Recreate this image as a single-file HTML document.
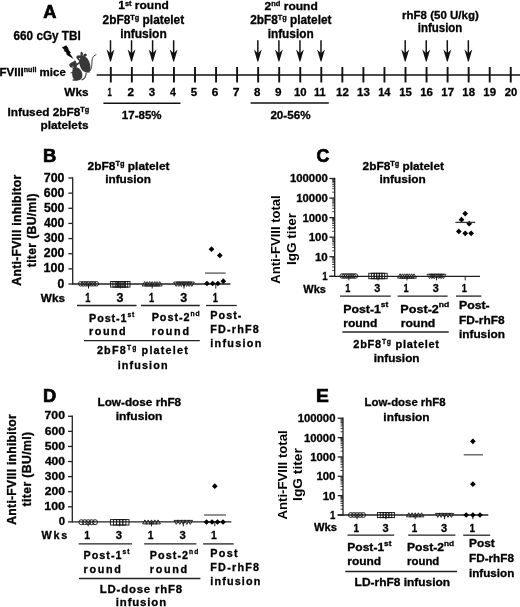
<!DOCTYPE html>
<html><head><meta charset="utf-8"><style>
html,body{margin:0;padding:0;background:#fff;width:520px;height:607px;overflow:hidden}
svg{display:block;will-change:transform}
text{font-family:"Liberation Sans",sans-serif;stroke:#000;stroke-width:0.3px}
</style></head><body>
<svg width="520" height="607" viewBox="0 0 520 607">
<rect width="520" height="607" fill="#fff"/>
<text x="43.15" y="18.30" font-size="17.80" textLength="13.13" lengthAdjust="spacingAndGlyphs" fill="#000" font-weight="bold" style="stroke-width:0.70px">A</text>
<text x="13.57" y="40.00" font-size="12.50" textLength="67.22" lengthAdjust="spacingAndGlyphs" fill="#000" font-weight="bold">660 cGy TBI</text>
<text x="118.25" y="9.00" font-size="11.50" textLength="50.54" lengthAdjust="spacingAndGlyphs" fill="#000" font-weight="bold">1<tspan font-size="7.13" dy="-3.45">st</tspan><tspan dy="3.45"> round</tspan></text>
<text x="102.59" y="24.00" font-size="12.00" textLength="81.56" lengthAdjust="spacingAndGlyphs" fill="#000" font-weight="bold">2bF8<tspan font-size="7.44" dy="-4.32">Tg</tspan><tspan dy="4.32"> platelet</tspan></text>
<text x="120.16" y="37.50" font-size="12.00" textLength="46.58" lengthAdjust="spacingAndGlyphs" fill="#000" font-weight="bold">infusion</text>
<text x="264.58" y="9.60" font-size="11.50" textLength="53.21" lengthAdjust="spacingAndGlyphs" fill="#000" font-weight="bold">2<tspan font-size="7.13" dy="-3.45">nd</tspan><tspan dy="3.45"> round</tspan></text>
<text x="250.19" y="24.00" font-size="12.00" textLength="81.25" lengthAdjust="spacingAndGlyphs" fill="#000" font-weight="bold">2bF8<tspan font-size="7.44" dy="-4.32">Tg</tspan><tspan dy="4.32"> platelet</tspan></text>
<text x="267.67" y="37.50" font-size="12.00" textLength="46.06" lengthAdjust="spacingAndGlyphs" fill="#000" font-weight="bold">infusion</text>
<text x="402.04" y="19.00" font-size="11.50" textLength="76.73" lengthAdjust="spacingAndGlyphs" fill="#000" font-weight="bold">rhF8 (50 U/kg)</text>
<text x="417.80" y="32.00" font-size="12.00" textLength="44.51" lengthAdjust="spacingAndGlyphs" fill="#000" font-weight="bold">infusion</text>
<text x="-0.47" y="76.30" font-size="11.50" textLength="66.26" lengthAdjust="spacingAndGlyphs" fill="#000" font-weight="bold">FVIII<tspan font-size="7.13" dy="-4.14">null</tspan><tspan dy="4.14"> mice</tspan></text>
<text x="64.39" y="96.00" font-size="11.00" textLength="24.09" lengthAdjust="spacingAndGlyphs" fill="#000" font-weight="bold">Wks</text>
<text x="107.51" y="96.40" font-size="11.40" textLength="4.30" lengthAdjust="spacingAndGlyphs" fill="#000" font-weight="bold">1</text>
<text x="127.59" y="96.40" font-size="11.40" textLength="6.58" lengthAdjust="spacingAndGlyphs" fill="#000" font-weight="bold">2</text>
<text x="148.79" y="96.40" font-size="11.40" textLength="6.38" lengthAdjust="spacingAndGlyphs" fill="#000" font-weight="bold">3</text>
<text x="169.94" y="96.40" font-size="11.40" textLength="5.92" lengthAdjust="spacingAndGlyphs" fill="#000" font-weight="bold">4</text>
<text x="190.80" y="96.40" font-size="11.40" textLength="6.37" lengthAdjust="spacingAndGlyphs" fill="#000" font-weight="bold">5</text>
<text x="211.77" y="96.40" font-size="11.40" textLength="6.56" lengthAdjust="spacingAndGlyphs" fill="#000" font-weight="bold">6</text>
<text x="232.73" y="96.40" font-size="11.40" textLength="6.76" lengthAdjust="spacingAndGlyphs" fill="#000" font-weight="bold">7</text>
<text x="253.93" y="96.40" font-size="11.40" textLength="6.42" lengthAdjust="spacingAndGlyphs" fill="#000" font-weight="bold">8</text>
<text x="274.94" y="96.40" font-size="11.40" textLength="6.54" lengthAdjust="spacingAndGlyphs" fill="#000" font-weight="bold">9</text>
<text x="294.04" y="96.40" font-size="11.40" textLength="12.58" lengthAdjust="spacingAndGlyphs" fill="#000" font-weight="bold">10</text>
<text x="314.05" y="96.40" font-size="11.40" textLength="11.54" lengthAdjust="spacingAndGlyphs" fill="#000" font-weight="bold">11</text>
<text x="336.03" y="96.40" font-size="11.40" textLength="12.78" lengthAdjust="spacingAndGlyphs" fill="#000" font-weight="bold">12</text>
<text x="357.08" y="96.40" font-size="11.40" textLength="12.73" lengthAdjust="spacingAndGlyphs" fill="#000" font-weight="bold">13</text>
<text x="378.15" y="96.40" font-size="11.40" textLength="12.36" lengthAdjust="spacingAndGlyphs" fill="#000" font-weight="bold">14</text>
<text x="399.18" y="96.40" font-size="11.40" textLength="12.63" lengthAdjust="spacingAndGlyphs" fill="#000" font-weight="bold">15</text>
<text x="420.23" y="96.40" font-size="11.40" textLength="12.73" lengthAdjust="spacingAndGlyphs" fill="#000" font-weight="bold">16</text>
<text x="441.27" y="96.40" font-size="11.40" textLength="12.83" lengthAdjust="spacingAndGlyphs" fill="#000" font-weight="bold">17</text>
<text x="462.33" y="96.40" font-size="11.40" textLength="12.67" lengthAdjust="spacingAndGlyphs" fill="#000" font-weight="bold">18</text>
<text x="483.38" y="96.40" font-size="11.40" textLength="12.75" lengthAdjust="spacingAndGlyphs" fill="#000" font-weight="bold">19</text>
<text x="504.76" y="96.40" font-size="11.40" textLength="12.45" lengthAdjust="spacingAndGlyphs" fill="#000" font-weight="bold">20</text>
<text x="7.46" y="116.25" font-size="11.80" textLength="81.78" lengthAdjust="spacingAndGlyphs" fill="#000" font-weight="bold">Infused 2bF8<tspan font-size="7.32" dy="-4.25">Tg</tspan></text>
<text x="40.47" y="129.40" font-size="11.80" textLength="48.02" lengthAdjust="spacingAndGlyphs" fill="#000" font-weight="bold">platelets</text>
<text x="121.87" y="119.20" font-size="11.80" textLength="39.73" lengthAdjust="spacingAndGlyphs" fill="#000" font-weight="bold">17-85%</text>
<text x="270.40" y="119.10" font-size="11.80" textLength="40.11" lengthAdjust="spacingAndGlyphs" fill="#000" font-weight="bold">20-56%</text>
<line x1="96.70" y1="75.00" x2="520.00" y2="75.00" stroke="#111" stroke-width="1.60"/>
<line x1="110.80" y1="67.00" x2="110.80" y2="82.50" stroke="#111" stroke-width="1.90"/>
<line x1="131.85" y1="67.00" x2="131.85" y2="82.50" stroke="#111" stroke-width="1.90"/>
<line x1="152.90" y1="67.00" x2="152.90" y2="82.50" stroke="#111" stroke-width="1.90"/>
<line x1="173.95" y1="67.00" x2="173.95" y2="82.50" stroke="#111" stroke-width="1.90"/>
<line x1="195.00" y1="67.00" x2="195.00" y2="82.50" stroke="#111" stroke-width="1.90"/>
<line x1="216.05" y1="67.00" x2="216.05" y2="82.50" stroke="#111" stroke-width="1.90"/>
<line x1="237.10" y1="67.00" x2="237.10" y2="82.50" stroke="#111" stroke-width="1.90"/>
<line x1="258.15" y1="67.00" x2="258.15" y2="82.50" stroke="#111" stroke-width="1.90"/>
<line x1="279.20" y1="67.00" x2="279.20" y2="82.50" stroke="#111" stroke-width="1.90"/>
<line x1="300.25" y1="67.00" x2="300.25" y2="82.50" stroke="#111" stroke-width="1.90"/>
<line x1="321.30" y1="67.00" x2="321.30" y2="82.50" stroke="#111" stroke-width="1.90"/>
<line x1="342.35" y1="67.00" x2="342.35" y2="82.50" stroke="#111" stroke-width="1.90"/>
<line x1="363.40" y1="67.00" x2="363.40" y2="82.50" stroke="#111" stroke-width="1.90"/>
<line x1="384.45" y1="67.00" x2="384.45" y2="82.50" stroke="#111" stroke-width="1.90"/>
<line x1="405.50" y1="67.00" x2="405.50" y2="82.50" stroke="#111" stroke-width="1.90"/>
<line x1="426.55" y1="67.00" x2="426.55" y2="82.50" stroke="#111" stroke-width="1.90"/>
<line x1="447.60" y1="67.00" x2="447.60" y2="82.50" stroke="#111" stroke-width="1.90"/>
<line x1="468.65" y1="67.00" x2="468.65" y2="82.50" stroke="#111" stroke-width="1.90"/>
<line x1="489.70" y1="67.00" x2="489.70" y2="82.50" stroke="#111" stroke-width="1.90"/>
<line x1="510.75" y1="67.00" x2="510.75" y2="82.50" stroke="#111" stroke-width="1.90"/>
<line x1="110.50" y1="40.20" x2="110.50" y2="55.40" stroke="#111" stroke-width="1.50"/>
<path d="M106.60 49.50 L110.50 53.20 L114.40 49.50 L110.90 61.40 L110.10 61.40 Z" fill="#111"/>
<line x1="131.55" y1="40.20" x2="131.55" y2="55.40" stroke="#111" stroke-width="1.50"/>
<path d="M127.65 49.50 L131.55 53.20 L135.45 49.50 L131.95 61.40 L131.15 61.40 Z" fill="#111"/>
<line x1="152.60" y1="40.20" x2="152.60" y2="55.40" stroke="#111" stroke-width="1.50"/>
<path d="M148.70 49.50 L152.60 53.20 L156.50 49.50 L153.00 61.40 L152.20 61.40 Z" fill="#111"/>
<line x1="173.65" y1="40.20" x2="173.65" y2="55.40" stroke="#111" stroke-width="1.50"/>
<path d="M169.75 49.50 L173.65 53.20 L177.55 49.50 L174.05 61.40 L173.25 61.40 Z" fill="#111"/>
<line x1="257.85" y1="40.20" x2="257.85" y2="55.40" stroke="#111" stroke-width="1.50"/>
<path d="M253.95 49.50 L257.85 53.20 L261.75 49.50 L258.25 61.40 L257.45 61.40 Z" fill="#111"/>
<line x1="278.90" y1="40.20" x2="278.90" y2="55.40" stroke="#111" stroke-width="1.50"/>
<path d="M275.00 49.50 L278.90 53.20 L282.80 49.50 L279.30 61.40 L278.50 61.40 Z" fill="#111"/>
<line x1="299.95" y1="40.20" x2="299.95" y2="55.40" stroke="#111" stroke-width="1.50"/>
<path d="M296.05 49.50 L299.95 53.20 L303.85 49.50 L300.35 61.40 L299.55 61.40 Z" fill="#111"/>
<line x1="321.00" y1="40.20" x2="321.00" y2="55.40" stroke="#111" stroke-width="1.50"/>
<path d="M317.10 49.50 L321.00 53.20 L324.90 49.50 L321.40 61.40 L320.60 61.40 Z" fill="#111"/>
<line x1="405.20" y1="40.20" x2="405.20" y2="55.40" stroke="#111" stroke-width="1.50"/>
<path d="M401.30 49.50 L405.20 53.20 L409.10 49.50 L405.60 61.40 L404.80 61.40 Z" fill="#111"/>
<line x1="426.25" y1="40.20" x2="426.25" y2="55.40" stroke="#111" stroke-width="1.50"/>
<path d="M422.35 49.50 L426.25 53.20 L430.15 49.50 L426.65 61.40 L425.85 61.40 Z" fill="#111"/>
<line x1="447.30" y1="40.20" x2="447.30" y2="55.40" stroke="#111" stroke-width="1.50"/>
<path d="M443.40 49.50 L447.30 53.20 L451.20 49.50 L447.70 61.40 L446.90 61.40 Z" fill="#111"/>
<line x1="468.35" y1="40.20" x2="468.35" y2="55.40" stroke="#111" stroke-width="1.50"/>
<path d="M464.45 49.50 L468.35 53.20 L472.25 49.50 L468.75 61.40 L467.95 61.40 Z" fill="#111"/>
<line x1="103.40" y1="103.20" x2="180.50" y2="103.20" stroke="#111" stroke-width="1.50"/>
<line x1="250.60" y1="103.00" x2="328.80" y2="103.00" stroke="#111" stroke-width="1.50"/>
<g fill="#383838">
<path d="M61.9 47.4 L66.2 45.3 L68.1 47.8 L68.8 50.1 L70.8 52.4 L70 53.5 L73.6 59.1 L66.9 55.1 L65.8 52 L64.2 51.2 L64.2 49.7 Z" fill="#0a0a0a"/>
<path d="M78.8 58.5 C80 55.3 85 55.2 87.6 58.8 C90 62 91.2 67 90.2 70.4 C89.3 72.6 85 72.6 83 71 C80.5 69 79 64 78.8 58.5 Z"/>
<path d="M76.3 57.7 C77 56 78.6 55.2 80.2 55.3 L84.4 56 C85.3 57.7 84.3 60.3 82.3 61.3 C80.3 61.9 78.2 60.6 76.3 57.7 Z"/>
<ellipse cx="81.7" cy="54" rx="1.25" ry="2.2" transform="rotate(-8 81.7 54)"/>
<ellipse cx="85" cy="55.2" rx="1.9" ry="1.4" transform="rotate(-30 85 55.2)"/>
<ellipse cx="77.6" cy="56.8" rx="1.1" ry="1.4"/>
<path d="M87.8 71.9 C90.6 71.6 91.9 68 91.9 63 C91.9 58.5 92.8 55.8 96.3 54.7" fill="none" stroke="#383838" stroke-width="1"/>
<path d="M73.2 68 C76 66.2 80.2 68 81.8 72 C83.2 76 82.2 79.6 78.6 80.3 C75 80.7 72.4 79 72.2 75 C72.1 72 72.3 69.6 73.2 68 Z"/>
<path d="M69.3 64.8 C70 62.6 73 61.1 75.5 61.5 C77.2 62.5 77.3 66 76.2 68.2 C74.6 69.8 71.8 69 69.3 64.8 Z"/>
<ellipse cx="74.8" cy="61.9" rx="1.1" ry="1.3"/>
<ellipse cx="70.6" cy="65.6" rx="1.1" ry="1.6" transform="rotate(-30 70.6 65.6)"/>
<path d="M75.8 65.4 L79.8 62.4" stroke="#383838" stroke-width="1.6" fill="none"/>
<ellipse cx="75.2" cy="79.9" rx="2.9" ry="0.9"/>
<path d="M70.6 72.9 L73.4 72.5" stroke="#383838" stroke-width="1" fill="none"/>
<path d="M81.5 80 C84.6 79.2 86.2 76.5 86.2 72.6" fill="none" stroke="#383838" stroke-width="1.1"/>
<path d="M85.5 71.9 L90 72.1" stroke="#383838" stroke-width="0.8" fill="none"/>
<circle cx="79.6" cy="58.6" r="0.6" fill="#fff"/>
<circle cx="72.9" cy="67.1" r="0.6" fill="#fff"/>
</g>
<text x="42.97" y="161.50" font-size="18.00" textLength="13.26" lengthAdjust="spacingAndGlyphs" fill="#000" font-weight="bold" style="stroke-width:0.70px">B</text>
<text x="87.59" y="170.20" font-size="11.00" textLength="81.96" lengthAdjust="spacingAndGlyphs" fill="#000" font-weight="bold">2bF8<tspan font-size="6.82" dy="-3.96">Tg</tspan><tspan dy="3.96"> platelet</tspan></text>
<text x="105.18" y="182.70" font-size="11.00" textLength="45.75" lengthAdjust="spacingAndGlyphs" fill="#000" font-weight="bold">infusion</text>
<text transform="translate(21.00 230.15) rotate(-90)" x="-55.55" y="0" font-size="12.20" textLength="110.99" lengthAdjust="spacing" fill="#000" font-weight="bold">Anti-FVIII inhibitor</text>
<text transform="translate(35.60 230.60) rotate(-90)" x="-36.65" y="0" font-size="12.20" textLength="73.76" lengthAdjust="spacing" fill="#000" font-weight="bold">titer (BU/ml)</text>
<line x1="72.70" y1="177.32" x2="72.70" y2="284.70" stroke="#222" stroke-width="1.30"/>
<line x1="68.40" y1="284.00" x2="72.70" y2="284.00" stroke="#222" stroke-width="1.30"/>
<text x="57.62" y="287.60" font-size="12.00" textLength="6.78" lengthAdjust="spacingAndGlyphs" fill="#000" font-weight="bold">0</text>
<line x1="68.40" y1="268.86" x2="72.70" y2="268.86" stroke="#222" stroke-width="1.30"/>
<text x="43.51" y="272.46" font-size="12.00" textLength="20.90" lengthAdjust="spacingAndGlyphs" fill="#000" font-weight="bold">100</text>
<line x1="68.40" y1="253.72" x2="72.70" y2="253.72" stroke="#222" stroke-width="1.30"/>
<text x="43.87" y="257.32" font-size="12.00" textLength="20.53" lengthAdjust="spacingAndGlyphs" fill="#000" font-weight="bold">200</text>
<line x1="68.40" y1="238.58" x2="72.70" y2="238.58" stroke="#222" stroke-width="1.30"/>
<text x="44.02" y="242.18" font-size="12.00" textLength="20.38" lengthAdjust="spacingAndGlyphs" fill="#000" font-weight="bold">300</text>
<line x1="68.40" y1="223.44" x2="72.70" y2="223.44" stroke="#222" stroke-width="1.30"/>
<text x="44.12" y="227.04" font-size="12.00" textLength="20.28" lengthAdjust="spacingAndGlyphs" fill="#000" font-weight="bold">400</text>
<line x1="68.40" y1="208.30" x2="72.70" y2="208.30" stroke="#222" stroke-width="1.30"/>
<text x="43.92" y="211.90" font-size="12.00" textLength="20.48" lengthAdjust="spacingAndGlyphs" fill="#000" font-weight="bold">500</text>
<line x1="68.40" y1="193.16" x2="72.70" y2="193.16" stroke="#222" stroke-width="1.30"/>
<text x="43.85" y="196.76" font-size="12.00" textLength="20.56" lengthAdjust="spacingAndGlyphs" fill="#000" font-weight="bold">600</text>
<line x1="68.40" y1="178.02" x2="72.70" y2="178.02" stroke="#222" stroke-width="1.30"/>
<text x="43.77" y="181.62" font-size="12.00" textLength="20.64" lengthAdjust="spacingAndGlyphs" fill="#000" font-weight="bold">700</text>
<line x1="72.70" y1="284.00" x2="230.40" y2="284.00" stroke="#222" stroke-width="1.30"/>
<line x1="88.50" y1="284.00" x2="88.50" y2="288.50" stroke="#222" stroke-width="1.00"/>
<line x1="120.30" y1="284.00" x2="120.30" y2="288.50" stroke="#222" stroke-width="1.00"/>
<line x1="152.20" y1="284.00" x2="152.20" y2="288.50" stroke="#222" stroke-width="1.00"/>
<line x1="184.00" y1="284.00" x2="184.00" y2="288.50" stroke="#222" stroke-width="1.00"/>
<line x1="215.80" y1="284.00" x2="215.80" y2="288.50" stroke="#222" stroke-width="1.00"/>
<circle cx="80.70" cy="283.80" r="2.30" fill="none" stroke="#1a1a1a" stroke-width="0.95"/>
<circle cx="83.30" cy="283.80" r="2.30" fill="none" stroke="#1a1a1a" stroke-width="0.95"/>
<circle cx="85.90" cy="283.80" r="2.30" fill="none" stroke="#1a1a1a" stroke-width="0.95"/>
<circle cx="88.50" cy="283.80" r="2.30" fill="none" stroke="#1a1a1a" stroke-width="0.95"/>
<circle cx="91.10" cy="283.80" r="2.30" fill="none" stroke="#1a1a1a" stroke-width="0.95"/>
<circle cx="93.70" cy="283.80" r="2.30" fill="none" stroke="#1a1a1a" stroke-width="0.95"/>
<circle cx="96.30" cy="283.80" r="2.30" fill="none" stroke="#1a1a1a" stroke-width="0.95"/>
<rect x="110.60" y="281.50" width="5.60" height="5.60" fill="none" stroke="#1a1a1a" stroke-width="0.95"/>
<rect x="112.90" y="281.50" width="5.60" height="5.60" fill="none" stroke="#1a1a1a" stroke-width="0.95"/>
<rect x="115.20" y="281.50" width="5.60" height="5.60" fill="none" stroke="#1a1a1a" stroke-width="0.95"/>
<rect x="117.50" y="281.50" width="5.60" height="5.60" fill="none" stroke="#1a1a1a" stroke-width="0.95"/>
<rect x="119.80" y="281.50" width="5.60" height="5.60" fill="none" stroke="#1a1a1a" stroke-width="0.95"/>
<rect x="122.10" y="281.50" width="5.60" height="5.60" fill="none" stroke="#1a1a1a" stroke-width="0.95"/>
<rect x="124.40" y="281.50" width="5.60" height="5.60" fill="none" stroke="#1a1a1a" stroke-width="0.95"/>
<path d="M144.70 281.59 L147.20 285.94 L142.20 285.94 Z" fill="none" stroke="#1a1a1a" stroke-width="0.95"/>
<path d="M147.20 281.59 L149.70 285.94 L144.70 285.94 Z" fill="none" stroke="#1a1a1a" stroke-width="0.95"/>
<path d="M149.70 281.59 L152.20 285.94 L147.20 285.94 Z" fill="none" stroke="#1a1a1a" stroke-width="0.95"/>
<path d="M152.20 281.59 L154.70 285.94 L149.70 285.94 Z" fill="none" stroke="#1a1a1a" stroke-width="0.95"/>
<path d="M154.70 281.59 L157.20 285.94 L152.20 285.94 Z" fill="none" stroke="#1a1a1a" stroke-width="0.95"/>
<path d="M157.20 281.59 L159.70 285.94 L154.70 285.94 Z" fill="none" stroke="#1a1a1a" stroke-width="0.95"/>
<path d="M159.70 281.59 L162.20 285.94 L157.20 285.94 Z" fill="none" stroke="#1a1a1a" stroke-width="0.95"/>
<path d="M176.20 286.41 L178.70 282.06 L173.70 282.06 Z" fill="none" stroke="#1a1a1a" stroke-width="0.95"/>
<path d="M178.80 286.41 L181.30 282.06 L176.30 282.06 Z" fill="none" stroke="#1a1a1a" stroke-width="0.95"/>
<path d="M181.40 286.41 L183.90 282.06 L178.90 282.06 Z" fill="none" stroke="#1a1a1a" stroke-width="0.95"/>
<path d="M184.00 286.41 L186.50 282.06 L181.50 282.06 Z" fill="none" stroke="#1a1a1a" stroke-width="0.95"/>
<path d="M186.60 286.41 L189.10 282.06 L184.10 282.06 Z" fill="none" stroke="#1a1a1a" stroke-width="0.95"/>
<path d="M189.20 286.41 L191.70 282.06 L186.70 282.06 Z" fill="none" stroke="#1a1a1a" stroke-width="0.95"/>
<path d="M191.80 286.41 L194.30 282.06 L189.30 282.06 Z" fill="none" stroke="#1a1a1a" stroke-width="0.95"/>
<path d="M211.50 246.35 L214.35 249.20 L211.50 252.05 L208.65 249.20 Z" fill="#000"/>
<path d="M219.80 252.55 L222.65 255.40 L219.80 258.25 L216.95 255.40 Z" fill="#000"/>
<path d="M207.00 280.65 L209.85 283.50 L207.00 286.35 L204.15 283.50 Z" fill="#000"/>
<path d="M212.70 280.65 L215.55 283.50 L212.70 286.35 L209.85 283.50 Z" fill="#000"/>
<path d="M217.90 280.65 L220.75 283.50 L217.90 286.35 L215.05 283.50 Z" fill="#000"/>
<path d="M223.30 278.35 L226.15 281.20 L223.30 284.05 L220.45 281.20 Z" fill="#000"/>
<line x1="205.00" y1="273.10" x2="225.60" y2="273.10" stroke="#555" stroke-width="1.30"/>
<text x="40.79" y="302.00" font-size="11.00" textLength="24.19" lengthAdjust="spacingAndGlyphs" fill="#000" font-weight="bold">Wks</text>
<text x="85.37" y="302.00" font-size="12.20" textLength="5.14" lengthAdjust="spacingAndGlyphs" fill="#000" font-weight="bold">1</text>
<text x="116.51" y="302.00" font-size="12.20" textLength="6.94" lengthAdjust="spacingAndGlyphs" fill="#000" font-weight="bold">3</text>
<text x="149.07" y="302.00" font-size="12.20" textLength="5.14" lengthAdjust="spacingAndGlyphs" fill="#000" font-weight="bold">1</text>
<text x="180.21" y="302.00" font-size="12.20" textLength="6.94" lengthAdjust="spacingAndGlyphs" fill="#000" font-weight="bold">3</text>
<text x="212.67" y="302.00" font-size="12.20" textLength="5.14" lengthAdjust="spacingAndGlyphs" fill="#000" font-weight="bold">1</text>
<line x1="77.00" y1="305.50" x2="136.50" y2="305.50" stroke="#222" stroke-width="1.30"/>
<line x1="141.00" y1="305.50" x2="199.80" y2="305.50" stroke="#222" stroke-width="1.30"/>
<line x1="206.00" y1="305.50" x2="236.70" y2="305.50" stroke="#222" stroke-width="1.30"/>
<text x="89.08" y="321.70" font-size="10.80" textLength="45.20" lengthAdjust="spacing" fill="#000" font-weight="bold">Post-1<tspan font-size="6.70" dy="-4.97">st</tspan></text>
<text x="89.09" y="335.20" font-size="10.80" textLength="36.62" lengthAdjust="spacing" fill="#000" font-weight="bold">round</text>
<text x="151.68" y="321.40" font-size="10.80" textLength="47.96" lengthAdjust="spacing" fill="#000" font-weight="bold">Post-2<tspan font-size="6.70" dy="-4.97">nd</tspan></text>
<text x="151.69" y="335.00" font-size="10.80" textLength="37.32" lengthAdjust="spacing" fill="#000" font-weight="bold">round</text>
<text x="210.28" y="319.00" font-size="10.80" textLength="31.15" lengthAdjust="spacing" fill="#000" font-weight="bold">Post-</text>
<text x="210.28" y="332.90" font-size="10.80" textLength="48.45" lengthAdjust="spacing" fill="#000" font-weight="bold">FD-rhF8</text>
<text x="210.25" y="347.00" font-size="10.80" textLength="51.02" lengthAdjust="spacing" fill="#000" font-weight="bold">infusion</text>
<line x1="84.00" y1="340.60" x2="199.80" y2="340.60" stroke="#222" stroke-width="1.30"/>
<text x="96.93" y="354.20" font-size="10.80" textLength="90.81" lengthAdjust="spacing" fill="#000" font-weight="bold">2bF8<tspan font-size="6.70" dy="-3.89">Tg</tspan><tspan dy="3.89"> platelet</tspan></text>
<text x="117.65" y="368.50" font-size="10.80" textLength="49.92" lengthAdjust="spacing" fill="#000" font-weight="bold">infusion</text>
<text x="316.47" y="161.60" font-size="18.00" textLength="12.81" lengthAdjust="spacingAndGlyphs" fill="#000" font-weight="bold" style="stroke-width:0.70px">C</text>
<text x="362.59" y="170.20" font-size="11.00" textLength="81.36" lengthAdjust="spacingAndGlyphs" fill="#000" font-weight="bold">2bF8<tspan font-size="6.82" dy="-3.96">Tg</tspan><tspan dy="3.96"> platelet</tspan></text>
<text x="379.57" y="183.00" font-size="11.00" textLength="46.17" lengthAdjust="spacingAndGlyphs" fill="#000" font-weight="bold">infusion</text>
<text transform="translate(279.80 239.80) rotate(-90)" x="-43.93" y="0" font-size="13.20" textLength="88.45" lengthAdjust="spacingAndGlyphs" fill="#000" font-weight="bold" style="stroke-width:0.00px">Anti-FVIII total</text>
<text transform="translate(295.70 238.70) rotate(-90)" x="-26.41" y="0" font-size="13.20" textLength="52.12" lengthAdjust="spacingAndGlyphs" fill="#000" font-weight="bold" style="stroke-width:0.00px">IgG titer</text>
<line x1="334.70" y1="177.80" x2="334.70" y2="277.00" stroke="#222" stroke-width="1.30"/>
<line x1="329.40" y1="276.30" x2="334.70" y2="276.30" stroke="#222" stroke-width="1.30"/>
<text x="322.19" y="280.20" font-size="11.20" textLength="5.38" lengthAdjust="spacingAndGlyphs" fill="#000" font-weight="bold">1</text>
<line x1="332.20" y1="270.41" x2="334.70" y2="270.41" stroke="#222" stroke-width="0.90"/>
<line x1="332.20" y1="266.97" x2="334.70" y2="266.97" stroke="#222" stroke-width="0.90"/>
<line x1="332.20" y1="264.52" x2="334.70" y2="264.52" stroke="#222" stroke-width="0.90"/>
<line x1="332.20" y1="262.63" x2="334.70" y2="262.63" stroke="#222" stroke-width="0.90"/>
<line x1="332.20" y1="261.08" x2="334.70" y2="261.08" stroke="#222" stroke-width="0.90"/>
<line x1="332.20" y1="259.77" x2="334.70" y2="259.77" stroke="#222" stroke-width="0.90"/>
<line x1="332.20" y1="258.64" x2="334.70" y2="258.64" stroke="#222" stroke-width="0.90"/>
<line x1="332.20" y1="257.64" x2="334.70" y2="257.64" stroke="#222" stroke-width="0.90"/>
<line x1="329.40" y1="256.74" x2="334.70" y2="256.74" stroke="#222" stroke-width="1.30"/>
<text x="314.98" y="260.64" font-size="11.20" textLength="12.80" lengthAdjust="spacingAndGlyphs" fill="#000" font-weight="bold">10</text>
<line x1="332.20" y1="250.85" x2="334.70" y2="250.85" stroke="#222" stroke-width="0.90"/>
<line x1="332.20" y1="247.41" x2="334.70" y2="247.41" stroke="#222" stroke-width="0.90"/>
<line x1="332.20" y1="244.96" x2="334.70" y2="244.96" stroke="#222" stroke-width="0.90"/>
<line x1="332.20" y1="243.07" x2="334.70" y2="243.07" stroke="#222" stroke-width="0.90"/>
<line x1="332.20" y1="241.52" x2="334.70" y2="241.52" stroke="#222" stroke-width="0.90"/>
<line x1="332.20" y1="240.21" x2="334.70" y2="240.21" stroke="#222" stroke-width="0.90"/>
<line x1="332.20" y1="239.08" x2="334.70" y2="239.08" stroke="#222" stroke-width="0.90"/>
<line x1="332.20" y1="238.08" x2="334.70" y2="238.08" stroke="#222" stroke-width="0.90"/>
<line x1="329.40" y1="237.18" x2="334.70" y2="237.18" stroke="#222" stroke-width="1.30"/>
<text x="308.73" y="241.08" font-size="11.20" textLength="19.04" lengthAdjust="spacingAndGlyphs" fill="#000" font-weight="bold">100</text>
<line x1="332.20" y1="231.29" x2="334.70" y2="231.29" stroke="#222" stroke-width="0.90"/>
<line x1="332.20" y1="227.85" x2="334.70" y2="227.85" stroke="#222" stroke-width="0.90"/>
<line x1="332.20" y1="225.40" x2="334.70" y2="225.40" stroke="#222" stroke-width="0.90"/>
<line x1="332.20" y1="223.51" x2="334.70" y2="223.51" stroke="#222" stroke-width="0.90"/>
<line x1="332.20" y1="221.96" x2="334.70" y2="221.96" stroke="#222" stroke-width="0.90"/>
<line x1="332.20" y1="220.65" x2="334.70" y2="220.65" stroke="#222" stroke-width="0.90"/>
<line x1="332.20" y1="219.52" x2="334.70" y2="219.52" stroke="#222" stroke-width="0.90"/>
<line x1="332.20" y1="218.52" x2="334.70" y2="218.52" stroke="#222" stroke-width="0.90"/>
<line x1="329.40" y1="217.62" x2="334.70" y2="217.62" stroke="#222" stroke-width="1.30"/>
<text x="302.48" y="221.52" font-size="11.20" textLength="25.28" lengthAdjust="spacingAndGlyphs" fill="#000" font-weight="bold">1000</text>
<line x1="332.20" y1="211.73" x2="334.70" y2="211.73" stroke="#222" stroke-width="0.90"/>
<line x1="332.20" y1="208.29" x2="334.70" y2="208.29" stroke="#222" stroke-width="0.90"/>
<line x1="332.20" y1="205.84" x2="334.70" y2="205.84" stroke="#222" stroke-width="0.90"/>
<line x1="332.20" y1="203.95" x2="334.70" y2="203.95" stroke="#222" stroke-width="0.90"/>
<line x1="332.20" y1="202.40" x2="334.70" y2="202.40" stroke="#222" stroke-width="0.90"/>
<line x1="332.20" y1="201.09" x2="334.70" y2="201.09" stroke="#222" stroke-width="0.90"/>
<line x1="332.20" y1="199.96" x2="334.70" y2="199.96" stroke="#222" stroke-width="0.90"/>
<line x1="332.20" y1="198.96" x2="334.70" y2="198.96" stroke="#222" stroke-width="0.90"/>
<line x1="329.40" y1="198.06" x2="334.70" y2="198.06" stroke="#222" stroke-width="1.30"/>
<text x="296.24" y="201.96" font-size="11.20" textLength="31.53" lengthAdjust="spacingAndGlyphs" fill="#000" font-weight="bold">10000</text>
<line x1="332.20" y1="192.17" x2="334.70" y2="192.17" stroke="#222" stroke-width="0.90"/>
<line x1="332.20" y1="188.73" x2="334.70" y2="188.73" stroke="#222" stroke-width="0.90"/>
<line x1="332.20" y1="186.28" x2="334.70" y2="186.28" stroke="#222" stroke-width="0.90"/>
<line x1="332.20" y1="184.39" x2="334.70" y2="184.39" stroke="#222" stroke-width="0.90"/>
<line x1="332.20" y1="182.84" x2="334.70" y2="182.84" stroke="#222" stroke-width="0.90"/>
<line x1="332.20" y1="181.53" x2="334.70" y2="181.53" stroke="#222" stroke-width="0.90"/>
<line x1="332.20" y1="180.40" x2="334.70" y2="180.40" stroke="#222" stroke-width="0.90"/>
<line x1="332.20" y1="179.40" x2="334.70" y2="179.40" stroke="#222" stroke-width="0.90"/>
<line x1="329.40" y1="178.50" x2="334.70" y2="178.50" stroke="#222" stroke-width="1.30"/>
<text x="289.99" y="182.40" font-size="11.20" textLength="37.78" lengthAdjust="spacingAndGlyphs" fill="#000" font-weight="bold">100000</text>
<line x1="329.40" y1="276.30" x2="480.00" y2="276.30" stroke="#222" stroke-width="1.30"/>
<line x1="348.80" y1="276.30" x2="348.80" y2="280.40" stroke="#222" stroke-width="1.00"/>
<line x1="378.00" y1="276.30" x2="378.00" y2="280.40" stroke="#222" stroke-width="1.00"/>
<line x1="407.00" y1="276.30" x2="407.00" y2="280.40" stroke="#222" stroke-width="1.00"/>
<line x1="436.50" y1="276.30" x2="436.50" y2="280.40" stroke="#222" stroke-width="1.00"/>
<line x1="465.20" y1="276.30" x2="465.20" y2="280.40" stroke="#222" stroke-width="1.00"/>
<circle cx="342.20" cy="276.00" r="2.30" fill="none" stroke="#1a1a1a" stroke-width="0.95"/>
<circle cx="344.40" cy="276.00" r="2.30" fill="none" stroke="#1a1a1a" stroke-width="0.95"/>
<circle cx="346.60" cy="276.00" r="2.30" fill="none" stroke="#1a1a1a" stroke-width="0.95"/>
<circle cx="348.80" cy="276.00" r="2.30" fill="none" stroke="#1a1a1a" stroke-width="0.95"/>
<circle cx="351.00" cy="276.00" r="2.30" fill="none" stroke="#1a1a1a" stroke-width="0.95"/>
<circle cx="353.20" cy="276.00" r="2.30" fill="none" stroke="#1a1a1a" stroke-width="0.95"/>
<circle cx="355.40" cy="276.00" r="2.30" fill="none" stroke="#1a1a1a" stroke-width="0.95"/>
<rect x="368.80" y="273.30" width="5.40" height="5.40" fill="none" stroke="#1a1a1a" stroke-width="0.95"/>
<rect x="371.40" y="273.30" width="5.40" height="5.40" fill="none" stroke="#1a1a1a" stroke-width="0.95"/>
<rect x="374.00" y="273.30" width="5.40" height="5.40" fill="none" stroke="#1a1a1a" stroke-width="0.95"/>
<rect x="376.60" y="273.30" width="5.40" height="5.40" fill="none" stroke="#1a1a1a" stroke-width="0.95"/>
<rect x="379.20" y="273.30" width="5.40" height="5.40" fill="none" stroke="#1a1a1a" stroke-width="0.95"/>
<rect x="381.80" y="273.30" width="5.40" height="5.40" fill="none" stroke="#1a1a1a" stroke-width="0.95"/>
<path d="M400.10 273.79 L402.60 278.14 L397.60 278.14 Z" fill="none" stroke="#1a1a1a" stroke-width="0.95"/>
<path d="M402.40 273.79 L404.90 278.14 L399.90 278.14 Z" fill="none" stroke="#1a1a1a" stroke-width="0.95"/>
<path d="M404.70 273.79 L407.20 278.14 L402.20 278.14 Z" fill="none" stroke="#1a1a1a" stroke-width="0.95"/>
<path d="M407.00 273.79 L409.50 278.14 L404.50 278.14 Z" fill="none" stroke="#1a1a1a" stroke-width="0.95"/>
<path d="M409.30 273.79 L411.80 278.14 L406.80 278.14 Z" fill="none" stroke="#1a1a1a" stroke-width="0.95"/>
<path d="M411.60 273.79 L414.10 278.14 L409.10 278.14 Z" fill="none" stroke="#1a1a1a" stroke-width="0.95"/>
<path d="M413.90 273.79 L416.40 278.14 L411.40 278.14 Z" fill="none" stroke="#1a1a1a" stroke-width="0.95"/>
<path d="M429.60 278.61 L432.10 274.26 L427.10 274.26 Z" fill="none" stroke="#1a1a1a" stroke-width="0.95"/>
<path d="M431.90 278.61 L434.40 274.26 L429.40 274.26 Z" fill="none" stroke="#1a1a1a" stroke-width="0.95"/>
<path d="M434.20 278.61 L436.70 274.26 L431.70 274.26 Z" fill="none" stroke="#1a1a1a" stroke-width="0.95"/>
<path d="M436.50 278.61 L439.00 274.26 L434.00 274.26 Z" fill="none" stroke="#1a1a1a" stroke-width="0.95"/>
<path d="M438.80 278.61 L441.30 274.26 L436.30 274.26 Z" fill="none" stroke="#1a1a1a" stroke-width="0.95"/>
<path d="M441.10 278.61 L443.60 274.26 L438.60 274.26 Z" fill="none" stroke="#1a1a1a" stroke-width="0.95"/>
<path d="M443.40 278.61 L445.90 274.26 L440.90 274.26 Z" fill="none" stroke="#1a1a1a" stroke-width="0.95"/>
<path d="M465.20 210.75 L468.05 213.60 L465.20 216.45 L462.35 213.60 Z" fill="#000"/>
<path d="M461.50 216.85 L464.35 219.70 L461.50 222.55 L458.65 219.70 Z" fill="#000"/>
<path d="M469.20 220.85 L472.05 223.70 L469.20 226.55 L466.35 223.70 Z" fill="#000"/>
<path d="M458.80 228.55 L461.65 231.40 L458.80 234.25 L455.95 231.40 Z" fill="#000"/>
<path d="M465.20 230.45 L468.05 233.30 L465.20 236.15 L462.35 233.30 Z" fill="#000"/>
<path d="M471.10 230.45 L473.95 233.30 L471.10 236.15 L468.25 233.30 Z" fill="#000"/>
<line x1="455.40" y1="222.40" x2="475.20" y2="222.40" stroke="#333" stroke-width="1.30"/>
<text x="303.29" y="293.00" font-size="11.00" textLength="22.56" lengthAdjust="spacingAndGlyphs" fill="#000" font-weight="bold">Wks</text>
<text x="345.27" y="292.20" font-size="11.20" textLength="5.14" lengthAdjust="spacingAndGlyphs" fill="#000" font-weight="bold">1</text>
<text x="374.25" y="292.20" font-size="11.20" textLength="6.04" lengthAdjust="spacingAndGlyphs" fill="#000" font-weight="bold">3</text>
<text x="403.47" y="292.20" font-size="11.20" textLength="5.14" lengthAdjust="spacingAndGlyphs" fill="#000" font-weight="bold">1</text>
<text x="432.75" y="292.20" font-size="11.20" textLength="6.04" lengthAdjust="spacingAndGlyphs" fill="#000" font-weight="bold">3</text>
<text x="461.67" y="292.20" font-size="11.20" textLength="5.14" lengthAdjust="spacingAndGlyphs" fill="#000" font-weight="bold">1</text>
<line x1="340.10" y1="296.10" x2="390.80" y2="296.10" stroke="#222" stroke-width="1.30"/>
<line x1="397.60" y1="296.10" x2="447.60" y2="296.10" stroke="#222" stroke-width="1.30"/>
<line x1="456.00" y1="296.10" x2="481.40" y2="296.10" stroke="#222" stroke-width="1.30"/>
<text x="343.18" y="312.50" font-size="11.00" textLength="45.13" lengthAdjust="spacingAndGlyphs" fill="#000" font-weight="bold">Post-1<tspan font-size="7.48" dy="-5.06">st</tspan></text>
<text x="343.20" y="326.90" font-size="11.00" textLength="34.19" lengthAdjust="spacingAndGlyphs" fill="#000" font-weight="bold">round</text>
<text x="400.36" y="312.50" font-size="11.00" textLength="48.91" lengthAdjust="spacingAndGlyphs" fill="#000" font-weight="bold">Post-2<tspan font-size="7.48" dy="-5.06">nd</tspan></text>
<text x="400.80" y="326.90" font-size="11.00" textLength="34.51" lengthAdjust="spacingAndGlyphs" fill="#000" font-weight="bold">round</text>
<line x1="342.40" y1="332.00" x2="448.70" y2="332.00" stroke="#222" stroke-width="1.30"/>
<text x="353.32" y="347.60" font-size="11.00" textLength="85.72" lengthAdjust="spacing" fill="#000" font-weight="bold">2bF8<tspan font-size="6.82" dy="-3.96">Tg</tspan><tspan dy="3.96"> platelet</tspan></text>
<text x="373.78" y="362.20" font-size="11.00" textLength="45.75" lengthAdjust="spacingAndGlyphs" fill="#000" font-weight="bold">infusion</text>
<text x="458.98" y="309.00" font-size="11.00" textLength="30.71" lengthAdjust="spacingAndGlyphs" fill="#000" font-weight="bold">Post-</text>
<text x="459.00" y="324.00" font-size="11.00" textLength="45.56" lengthAdjust="spacingAndGlyphs" fill="#000" font-weight="bold">FD-rhF8</text>
<text x="458.97" y="338.40" font-size="11.00" textLength="45.96" lengthAdjust="spacingAndGlyphs" fill="#000" font-weight="bold">infusion</text>
<text x="42.98" y="401.50" font-size="18.00" textLength="13.19" lengthAdjust="spacingAndGlyphs" fill="#000" font-weight="bold" style="stroke-width:0.70px">D</text>
<text x="97.51" y="406.20" font-size="11.00" textLength="83.65" lengthAdjust="spacingAndGlyphs" fill="#000" font-weight="bold">Low-dose rhF8</text>
<text x="115.66" y="420.00" font-size="11.00" textLength="46.79" lengthAdjust="spacingAndGlyphs" fill="#000" font-weight="bold">infusion</text>
<text transform="translate(15.70 469.45) rotate(-90)" x="-55.25" y="0" font-size="12.20" textLength="110.39" lengthAdjust="spacing" fill="#000" font-weight="bold">Anti-FVIII inhibitor</text>
<text transform="translate(31.20 469.45) rotate(-90)" x="-37.10" y="0" font-size="12.20" textLength="74.66" lengthAdjust="spacing" fill="#000" font-weight="bold">titer (BU/ml)</text>
<line x1="72.30" y1="415.57" x2="72.30" y2="522.60" stroke="#222" stroke-width="1.30"/>
<line x1="68.00" y1="521.90" x2="72.30" y2="521.90" stroke="#222" stroke-width="1.30"/>
<text x="58.65" y="525.10" font-size="10.90" textLength="6.31" lengthAdjust="spacingAndGlyphs" fill="#000" font-weight="bold">0</text>
<line x1="68.00" y1="506.81" x2="72.30" y2="506.81" stroke="#222" stroke-width="1.30"/>
<text x="44.32" y="510.01" font-size="10.90" textLength="20.69" lengthAdjust="spacingAndGlyphs" fill="#000" font-weight="bold">100</text>
<line x1="68.00" y1="491.72" x2="72.30" y2="491.72" stroke="#222" stroke-width="1.30"/>
<text x="44.68" y="494.92" font-size="10.90" textLength="20.32" lengthAdjust="spacingAndGlyphs" fill="#000" font-weight="bold">200</text>
<line x1="68.00" y1="476.63" x2="72.30" y2="476.63" stroke="#222" stroke-width="1.30"/>
<text x="44.82" y="479.83" font-size="10.90" textLength="20.17" lengthAdjust="spacingAndGlyphs" fill="#000" font-weight="bold">300</text>
<line x1="68.00" y1="461.54" x2="72.30" y2="461.54" stroke="#222" stroke-width="1.30"/>
<text x="44.92" y="464.74" font-size="10.90" textLength="20.08" lengthAdjust="spacingAndGlyphs" fill="#000" font-weight="bold">400</text>
<line x1="68.00" y1="446.45" x2="72.30" y2="446.45" stroke="#222" stroke-width="1.30"/>
<text x="44.73" y="449.65" font-size="10.90" textLength="20.27" lengthAdjust="spacingAndGlyphs" fill="#000" font-weight="bold">500</text>
<line x1="68.00" y1="431.36" x2="72.30" y2="431.36" stroke="#222" stroke-width="1.30"/>
<text x="44.65" y="434.56" font-size="10.90" textLength="20.35" lengthAdjust="spacingAndGlyphs" fill="#000" font-weight="bold">600</text>
<line x1="68.00" y1="416.27" x2="72.30" y2="416.27" stroke="#222" stroke-width="1.30"/>
<text x="44.57" y="419.47" font-size="10.90" textLength="20.43" lengthAdjust="spacingAndGlyphs" fill="#000" font-weight="bold">700</text>
<line x1="72.30" y1="521.90" x2="231.30" y2="521.90" stroke="#222" stroke-width="1.30"/>
<line x1="88.20" y1="521.90" x2="88.20" y2="526.30" stroke="#222" stroke-width="1.00"/>
<line x1="119.70" y1="521.90" x2="119.70" y2="526.30" stroke="#222" stroke-width="1.00"/>
<line x1="151.50" y1="521.90" x2="151.50" y2="526.30" stroke="#222" stroke-width="1.00"/>
<line x1="183.30" y1="521.90" x2="183.30" y2="526.30" stroke="#222" stroke-width="1.00"/>
<line x1="214.80" y1="521.90" x2="214.80" y2="526.30" stroke="#222" stroke-width="1.00"/>
<circle cx="81.40" cy="522.20" r="2.50" fill="none" stroke="#1a1a1a" stroke-width="0.95"/>
<circle cx="84.80" cy="522.20" r="2.50" fill="none" stroke="#1a1a1a" stroke-width="0.95"/>
<circle cx="88.20" cy="522.20" r="2.50" fill="none" stroke="#1a1a1a" stroke-width="0.95"/>
<circle cx="91.60" cy="522.20" r="2.50" fill="none" stroke="#1a1a1a" stroke-width="0.95"/>
<circle cx="95.00" cy="522.20" r="2.50" fill="none" stroke="#1a1a1a" stroke-width="0.95"/>
<rect x="110.40" y="519.60" width="6.20" height="5.40" fill="none" stroke="#1a1a1a" stroke-width="0.95"/>
<rect x="113.50" y="519.60" width="6.20" height="5.40" fill="none" stroke="#1a1a1a" stroke-width="0.95"/>
<rect x="116.60" y="519.60" width="6.20" height="5.40" fill="none" stroke="#1a1a1a" stroke-width="0.95"/>
<rect x="119.70" y="519.60" width="6.20" height="5.40" fill="none" stroke="#1a1a1a" stroke-width="0.95"/>
<rect x="122.80" y="519.60" width="6.20" height="5.40" fill="none" stroke="#1a1a1a" stroke-width="0.95"/>
<path d="M144.90 519.90 L147.20 523.90 L142.60 523.90 Z" fill="none" stroke="#1a1a1a" stroke-width="0.95"/>
<path d="M148.20 519.90 L150.50 523.90 L145.90 523.90 Z" fill="none" stroke="#1a1a1a" stroke-width="0.95"/>
<path d="M151.50 519.90 L153.80 523.90 L149.20 523.90 Z" fill="none" stroke="#1a1a1a" stroke-width="0.95"/>
<path d="M154.80 519.90 L157.10 523.90 L152.50 523.90 Z" fill="none" stroke="#1a1a1a" stroke-width="0.95"/>
<path d="M158.10 519.90 L160.40 523.90 L155.80 523.90 Z" fill="none" stroke="#1a1a1a" stroke-width="0.95"/>
<path d="M176.30 524.40 L178.60 520.40 L174.00 520.40 Z" fill="none" stroke="#1a1a1a" stroke-width="0.95"/>
<path d="M179.80 524.40 L182.10 520.40 L177.50 520.40 Z" fill="none" stroke="#1a1a1a" stroke-width="0.95"/>
<path d="M183.30 524.40 L185.60 520.40 L181.00 520.40 Z" fill="none" stroke="#1a1a1a" stroke-width="0.95"/>
<path d="M186.80 524.40 L189.10 520.40 L184.50 520.40 Z" fill="none" stroke="#1a1a1a" stroke-width="0.95"/>
<path d="M190.30 524.40 L192.60 520.40 L188.00 520.40 Z" fill="none" stroke="#1a1a1a" stroke-width="0.95"/>
<path d="M214.80 483.35 L217.65 486.20 L214.80 489.05 L211.95 486.20 Z" fill="#000"/>
<path d="M206.50 519.15 L209.35 522.00 L206.50 524.85 L203.65 522.00 Z" fill="#000"/>
<path d="M212.00 519.15 L214.85 522.00 L212.00 524.85 L209.15 522.00 Z" fill="#000"/>
<path d="M217.50 519.15 L220.35 522.00 L217.50 524.85 L214.65 522.00 Z" fill="#000"/>
<path d="M223.00 519.15 L225.85 522.00 L223.00 524.85 L220.15 522.00 Z" fill="#000"/>
<line x1="204.00" y1="515.00" x2="225.90" y2="515.00" stroke="#555" stroke-width="1.30"/>
<text x="41.39" y="539.20" font-size="10.80" textLength="25.85" lengthAdjust="spacing" fill="#000" font-weight="bold">Wks</text>
<text x="84.35" y="539.20" font-size="10.80" textLength="5.74" lengthAdjust="spacingAndGlyphs" fill="#000" font-weight="bold">1</text>
<text x="115.84" y="539.20" font-size="10.80" textLength="6.27" lengthAdjust="spacingAndGlyphs" fill="#000" font-weight="bold">3</text>
<text x="147.65" y="539.20" font-size="10.80" textLength="5.74" lengthAdjust="spacingAndGlyphs" fill="#000" font-weight="bold">1</text>
<text x="179.44" y="539.20" font-size="10.80" textLength="6.27" lengthAdjust="spacingAndGlyphs" fill="#000" font-weight="bold">3</text>
<text x="210.95" y="539.20" font-size="10.80" textLength="5.74" lengthAdjust="spacingAndGlyphs" fill="#000" font-weight="bold">1</text>
<line x1="78.70" y1="543.90" x2="131.90" y2="543.90" stroke="#222" stroke-width="1.30"/>
<line x1="144.20" y1="543.90" x2="196.40" y2="543.90" stroke="#222" stroke-width="1.30"/>
<line x1="203.10" y1="543.90" x2="233.70" y2="543.90" stroke="#222" stroke-width="1.30"/>
<text x="83.58" y="559.20" font-size="10.80" textLength="45.80" lengthAdjust="spacing" fill="#000" font-weight="bold">Post-1<tspan font-size="6.70" dy="-4.97">st</tspan></text>
<text x="83.59" y="573.20" font-size="10.80" textLength="37.22" lengthAdjust="spacing" fill="#000" font-weight="bold">round</text>
<text x="149.78" y="559.40" font-size="10.80" textLength="48.56" lengthAdjust="spacing" fill="#000" font-weight="bold">Post-2<tspan font-size="6.70" dy="-4.97">nd</tspan></text>
<text x="149.79" y="573.10" font-size="10.80" textLength="37.32" lengthAdjust="spacing" fill="#000" font-weight="bold">round</text>
<text x="210.28" y="556.70" font-size="10.80" textLength="27.35" lengthAdjust="spacing" fill="#000" font-weight="bold">Post</text>
<text x="210.28" y="570.80" font-size="10.80" textLength="48.85" lengthAdjust="spacing" fill="#000" font-weight="bold">FD-rhF8</text>
<text x="210.25" y="585.00" font-size="10.80" textLength="50.02" lengthAdjust="spacing" fill="#000" font-weight="bold">infusion</text>
<line x1="79.00" y1="578.50" x2="200.40" y2="578.50" stroke="#222" stroke-width="1.30"/>
<text x="99.74" y="592.60" font-size="11.40" textLength="82.41" lengthAdjust="spacing" fill="#000" font-weight="bold">LD-dose rhF8</text>
<text x="115.80" y="606.00" font-size="11.40" textLength="50.30" lengthAdjust="spacing" fill="#000" font-weight="bold">infusion</text>
<text x="315.91" y="401.50" font-size="18.00" textLength="12.84" lengthAdjust="spacingAndGlyphs" fill="#000" font-weight="bold" style="stroke-width:0.70px">E</text>
<text x="364.64" y="406.20" font-size="11.00" textLength="80.91" lengthAdjust="spacingAndGlyphs" fill="#000" font-weight="bold">Low-dose rhF8</text>
<text x="383.37" y="420.60" font-size="11.00" textLength="46.17" lengthAdjust="spacingAndGlyphs" fill="#000" font-weight="bold">infusion</text>
<text transform="translate(287.00 475.20) rotate(-90)" x="-44.33" y="0" font-size="13.20" textLength="89.26" lengthAdjust="spacingAndGlyphs" fill="#000" font-weight="bold" style="stroke-width:0.00px">Anti-FVIII total</text>
<text transform="translate(302.30 474.20) rotate(-90)" x="-26.72" y="0" font-size="13.20" textLength="52.73" lengthAdjust="spacingAndGlyphs" fill="#000" font-weight="bold" style="stroke-width:0.00px">IgG titer</text>
<line x1="343.00" y1="417.55" x2="343.00" y2="515.70" stroke="#222" stroke-width="1.30"/>
<line x1="337.70" y1="515.00" x2="343.00" y2="515.00" stroke="#222" stroke-width="1.30"/>
<text x="329.89" y="518.90" font-size="11.20" textLength="5.38" lengthAdjust="spacingAndGlyphs" fill="#000" font-weight="bold">1</text>
<line x1="340.50" y1="509.18" x2="343.00" y2="509.18" stroke="#222" stroke-width="0.90"/>
<line x1="340.50" y1="505.77" x2="343.00" y2="505.77" stroke="#222" stroke-width="0.90"/>
<line x1="340.50" y1="503.35" x2="343.00" y2="503.35" stroke="#222" stroke-width="0.90"/>
<line x1="340.50" y1="501.47" x2="343.00" y2="501.47" stroke="#222" stroke-width="0.90"/>
<line x1="340.50" y1="499.94" x2="343.00" y2="499.94" stroke="#222" stroke-width="0.90"/>
<line x1="340.50" y1="498.65" x2="343.00" y2="498.65" stroke="#222" stroke-width="0.90"/>
<line x1="340.50" y1="497.53" x2="343.00" y2="497.53" stroke="#222" stroke-width="0.90"/>
<line x1="340.50" y1="496.54" x2="343.00" y2="496.54" stroke="#222" stroke-width="0.90"/>
<line x1="337.70" y1="495.65" x2="343.00" y2="495.65" stroke="#222" stroke-width="1.30"/>
<text x="322.68" y="499.55" font-size="11.20" textLength="12.80" lengthAdjust="spacingAndGlyphs" fill="#000" font-weight="bold">10</text>
<line x1="340.50" y1="489.83" x2="343.00" y2="489.83" stroke="#222" stroke-width="0.90"/>
<line x1="340.50" y1="486.42" x2="343.00" y2="486.42" stroke="#222" stroke-width="0.90"/>
<line x1="340.50" y1="484.00" x2="343.00" y2="484.00" stroke="#222" stroke-width="0.90"/>
<line x1="340.50" y1="482.12" x2="343.00" y2="482.12" stroke="#222" stroke-width="0.90"/>
<line x1="340.50" y1="480.59" x2="343.00" y2="480.59" stroke="#222" stroke-width="0.90"/>
<line x1="340.50" y1="479.30" x2="343.00" y2="479.30" stroke="#222" stroke-width="0.90"/>
<line x1="340.50" y1="478.18" x2="343.00" y2="478.18" stroke="#222" stroke-width="0.90"/>
<line x1="340.50" y1="477.19" x2="343.00" y2="477.19" stroke="#222" stroke-width="0.90"/>
<line x1="337.70" y1="476.30" x2="343.00" y2="476.30" stroke="#222" stroke-width="1.30"/>
<text x="316.43" y="480.20" font-size="11.20" textLength="19.04" lengthAdjust="spacingAndGlyphs" fill="#000" font-weight="bold">100</text>
<line x1="340.50" y1="470.48" x2="343.00" y2="470.48" stroke="#222" stroke-width="0.90"/>
<line x1="340.50" y1="467.07" x2="343.00" y2="467.07" stroke="#222" stroke-width="0.90"/>
<line x1="340.50" y1="464.65" x2="343.00" y2="464.65" stroke="#222" stroke-width="0.90"/>
<line x1="340.50" y1="462.77" x2="343.00" y2="462.77" stroke="#222" stroke-width="0.90"/>
<line x1="340.50" y1="461.24" x2="343.00" y2="461.24" stroke="#222" stroke-width="0.90"/>
<line x1="340.50" y1="459.95" x2="343.00" y2="459.95" stroke="#222" stroke-width="0.90"/>
<line x1="340.50" y1="458.83" x2="343.00" y2="458.83" stroke="#222" stroke-width="0.90"/>
<line x1="340.50" y1="457.84" x2="343.00" y2="457.84" stroke="#222" stroke-width="0.90"/>
<line x1="337.70" y1="456.95" x2="343.00" y2="456.95" stroke="#222" stroke-width="1.30"/>
<text x="310.18" y="460.85" font-size="11.20" textLength="25.28" lengthAdjust="spacingAndGlyphs" fill="#000" font-weight="bold">1000</text>
<line x1="340.50" y1="451.13" x2="343.00" y2="451.13" stroke="#222" stroke-width="0.90"/>
<line x1="340.50" y1="447.72" x2="343.00" y2="447.72" stroke="#222" stroke-width="0.90"/>
<line x1="340.50" y1="445.30" x2="343.00" y2="445.30" stroke="#222" stroke-width="0.90"/>
<line x1="340.50" y1="443.42" x2="343.00" y2="443.42" stroke="#222" stroke-width="0.90"/>
<line x1="340.50" y1="441.89" x2="343.00" y2="441.89" stroke="#222" stroke-width="0.90"/>
<line x1="340.50" y1="440.60" x2="343.00" y2="440.60" stroke="#222" stroke-width="0.90"/>
<line x1="340.50" y1="439.48" x2="343.00" y2="439.48" stroke="#222" stroke-width="0.90"/>
<line x1="340.50" y1="438.49" x2="343.00" y2="438.49" stroke="#222" stroke-width="0.90"/>
<line x1="337.70" y1="437.60" x2="343.00" y2="437.60" stroke="#222" stroke-width="1.30"/>
<text x="303.94" y="441.50" font-size="11.20" textLength="31.53" lengthAdjust="spacingAndGlyphs" fill="#000" font-weight="bold">10000</text>
<line x1="340.50" y1="431.78" x2="343.00" y2="431.78" stroke="#222" stroke-width="0.90"/>
<line x1="340.50" y1="428.37" x2="343.00" y2="428.37" stroke="#222" stroke-width="0.90"/>
<line x1="340.50" y1="425.95" x2="343.00" y2="425.95" stroke="#222" stroke-width="0.90"/>
<line x1="340.50" y1="424.07" x2="343.00" y2="424.07" stroke="#222" stroke-width="0.90"/>
<line x1="340.50" y1="422.54" x2="343.00" y2="422.54" stroke="#222" stroke-width="0.90"/>
<line x1="340.50" y1="421.25" x2="343.00" y2="421.25" stroke="#222" stroke-width="0.90"/>
<line x1="340.50" y1="420.13" x2="343.00" y2="420.13" stroke="#222" stroke-width="0.90"/>
<line x1="340.50" y1="419.14" x2="343.00" y2="419.14" stroke="#222" stroke-width="0.90"/>
<line x1="337.70" y1="418.25" x2="343.00" y2="418.25" stroke="#222" stroke-width="1.30"/>
<text x="297.69" y="422.15" font-size="11.20" textLength="37.78" lengthAdjust="spacingAndGlyphs" fill="#000" font-weight="bold">100000</text>
<line x1="337.70" y1="515.00" x2="488.30" y2="515.00" stroke="#222" stroke-width="1.30"/>
<line x1="357.00" y1="515.00" x2="357.00" y2="519.20" stroke="#222" stroke-width="1.00"/>
<line x1="386.00" y1="515.00" x2="386.00" y2="519.20" stroke="#222" stroke-width="1.00"/>
<line x1="415.20" y1="515.00" x2="415.20" y2="519.20" stroke="#222" stroke-width="1.00"/>
<line x1="444.60" y1="515.00" x2="444.60" y2="519.20" stroke="#222" stroke-width="1.00"/>
<line x1="472.90" y1="515.00" x2="472.90" y2="519.20" stroke="#222" stroke-width="1.00"/>
<circle cx="350.80" cy="515.00" r="2.40" fill="none" stroke="#1a1a1a" stroke-width="0.95"/>
<circle cx="353.90" cy="515.00" r="2.40" fill="none" stroke="#1a1a1a" stroke-width="0.95"/>
<circle cx="357.00" cy="515.00" r="2.40" fill="none" stroke="#1a1a1a" stroke-width="0.95"/>
<circle cx="360.10" cy="515.00" r="2.40" fill="none" stroke="#1a1a1a" stroke-width="0.95"/>
<circle cx="363.20" cy="515.00" r="2.40" fill="none" stroke="#1a1a1a" stroke-width="0.95"/>
<rect x="377.45" y="512.60" width="5.70" height="5.00" fill="none" stroke="#1a1a1a" stroke-width="0.95"/>
<rect x="380.30" y="512.60" width="5.70" height="5.00" fill="none" stroke="#1a1a1a" stroke-width="0.95"/>
<rect x="383.15" y="512.60" width="5.70" height="5.00" fill="none" stroke="#1a1a1a" stroke-width="0.95"/>
<rect x="386.00" y="512.60" width="5.70" height="5.00" fill="none" stroke="#1a1a1a" stroke-width="0.95"/>
<rect x="388.85" y="512.60" width="5.70" height="5.00" fill="none" stroke="#1a1a1a" stroke-width="0.95"/>
<path d="M408.80 512.80 L411.10 516.80 L406.50 516.80 Z" fill="none" stroke="#1a1a1a" stroke-width="0.95"/>
<path d="M412.00 512.80 L414.30 516.80 L409.70 516.80 Z" fill="none" stroke="#1a1a1a" stroke-width="0.95"/>
<path d="M415.20 512.80 L417.50 516.80 L412.90 516.80 Z" fill="none" stroke="#1a1a1a" stroke-width="0.95"/>
<path d="M418.40 512.80 L420.70 516.80 L416.10 516.80 Z" fill="none" stroke="#1a1a1a" stroke-width="0.95"/>
<path d="M421.60 512.80 L423.90 516.80 L419.30 516.80 Z" fill="none" stroke="#1a1a1a" stroke-width="0.95"/>
<path d="M437.80 517.40 L440.10 513.40 L435.50 513.40 Z" fill="none" stroke="#1a1a1a" stroke-width="0.95"/>
<path d="M441.20 517.40 L443.50 513.40 L438.90 513.40 Z" fill="none" stroke="#1a1a1a" stroke-width="0.95"/>
<path d="M444.60 517.40 L446.90 513.40 L442.30 513.40 Z" fill="none" stroke="#1a1a1a" stroke-width="0.95"/>
<path d="M448.00 517.40 L450.30 513.40 L445.70 513.40 Z" fill="none" stroke="#1a1a1a" stroke-width="0.95"/>
<path d="M451.40 517.40 L453.70 513.40 L449.10 513.40 Z" fill="none" stroke="#1a1a1a" stroke-width="0.95"/>
<path d="M472.90 438.45 L475.75 441.30 L472.90 444.15 L470.05 441.30 Z" fill="#000"/>
<path d="M472.90 481.35 L475.75 484.20 L472.90 487.05 L470.05 484.20 Z" fill="#000"/>
<path d="M466.20 512.15 L469.05 515.00 L466.20 517.85 L463.35 515.00 Z" fill="#000"/>
<path d="M472.90 512.15 L475.75 515.00 L472.90 517.85 L470.05 515.00 Z" fill="#000"/>
<path d="M480.00 512.15 L482.85 515.00 L480.00 517.85 L477.15 515.00 Z" fill="#000"/>
<line x1="463.70" y1="454.80" x2="483.00" y2="454.80" stroke="#555" stroke-width="1.30"/>
<text x="313.99" y="531.00" font-size="11.00" textLength="22.97" lengthAdjust="spacingAndGlyphs" fill="#000" font-weight="bold">Wks</text>
<text x="353.58" y="531.70" font-size="11.80" textLength="5.50" lengthAdjust="spacingAndGlyphs" fill="#000" font-weight="bold">1</text>
<text x="382.50" y="531.70" font-size="11.80" textLength="6.15" lengthAdjust="spacingAndGlyphs" fill="#000" font-weight="bold">3</text>
<text x="411.78" y="531.70" font-size="11.80" textLength="5.50" lengthAdjust="spacingAndGlyphs" fill="#000" font-weight="bold">1</text>
<text x="441.10" y="531.70" font-size="11.80" textLength="6.15" lengthAdjust="spacingAndGlyphs" fill="#000" font-weight="bold">3</text>
<text x="469.48" y="531.70" font-size="11.80" textLength="5.50" lengthAdjust="spacingAndGlyphs" fill="#000" font-weight="bold">1</text>
<line x1="347.50" y1="535.20" x2="394.20" y2="535.20" stroke="#222" stroke-width="1.30"/>
<line x1="408.10" y1="535.20" x2="455.40" y2="535.20" stroke="#222" stroke-width="1.30"/>
<line x1="463.20" y1="535.20" x2="490.20" y2="535.20" stroke="#222" stroke-width="1.30"/>
<text x="347.29" y="551.10" font-size="11.00" textLength="44.11" lengthAdjust="spacingAndGlyphs" fill="#000" font-weight="bold">Post-1<tspan font-size="7.48" dy="-5.06">st</tspan></text>
<text x="347.31" y="564.70" font-size="11.00" textLength="33.88" lengthAdjust="spacingAndGlyphs" fill="#000" font-weight="bold">round</text>
<text x="406.99" y="551.10" font-size="11.00" textLength="47.16" lengthAdjust="spacingAndGlyphs" fill="#000" font-weight="bold">Post-2<tspan font-size="7.48" dy="-5.06">nd</tspan></text>
<text x="407.05" y="564.70" font-size="11.00" textLength="32.30" lengthAdjust="spacingAndGlyphs" fill="#000" font-weight="bold">round</text>
<text x="469.01" y="547.30" font-size="11.00" textLength="25.74" lengthAdjust="spacingAndGlyphs" fill="#000" font-weight="bold">Post</text>
<text x="469.02" y="561.70" font-size="11.00" textLength="44.95" lengthAdjust="spacingAndGlyphs" fill="#000" font-weight="bold">FD-rhF8</text>
<text x="468.99" y="576.70" font-size="11.00" textLength="45.34" lengthAdjust="spacingAndGlyphs" fill="#000" font-weight="bold">infusion</text>
<line x1="345.30" y1="571.50" x2="457.00" y2="571.50" stroke="#222" stroke-width="1.30"/>
<text x="354.60" y="586.20" font-size="11.00" textLength="95.54" lengthAdjust="spacingAndGlyphs" fill="#000" font-weight="bold">LD-rhF8 infusion</text>
</svg>
</body></html>
